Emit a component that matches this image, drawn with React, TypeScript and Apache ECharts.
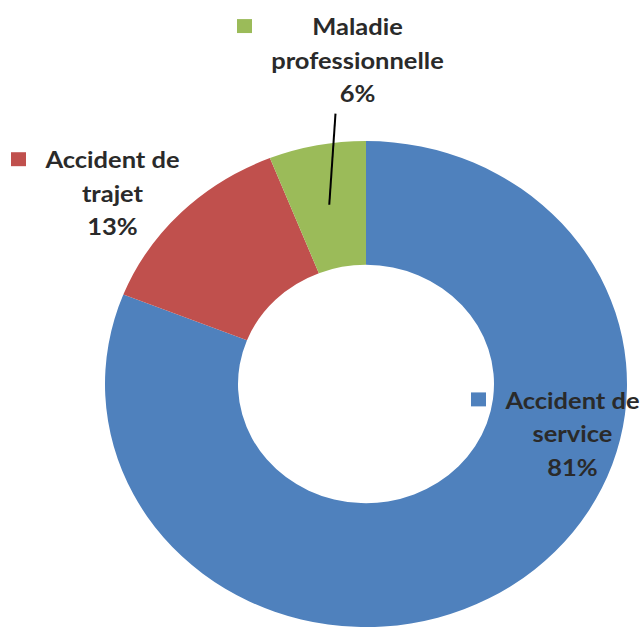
import React, { useEffect, useRef } from "react";
import * as echarts from "echarts";

const categories = ["Accident de service", "Accident de trajet", "Maladie professionnelle"];
const values = [81, 13, 6];
const colors = ["#4F81BD", "#C0504D", "#9BBB59"];

// label anchor positions (left edge of legend square, block middle), unscaled chart coordinates
const labelPos = [
  [471, 465],
  [11, 207],
  [237, 64],
];

const SY = 0.931;
const CX = 366;
const CY = 412.5;
const R_IN = 128;
const R_OUT = 261;
const FONT_SIZE = 25.5;
const FONT = `bold ${FONT_SIZE}px Lato`;
const SQ = 15;
const GAP = 18;
const LEADER_INDEX = 2;

function splitName(name: string): [string, string] {
  const i = name.lastIndexOf(" ");
  return [name.slice(0, i), name.slice(i + 1)];
}

function measure(text: string): number {
  const c = document.createElement("canvas").getContext("2d");
  if (!c) return text.length * FONT_SIZE * 0.55;
  c.font = FONT;
  return c.measureText(text).width;
}

export default function App() {
  const ref = useRef<HTMLDivElement>(null);
  useEffect(() => {
    if (!ref.current) return;
    const chart = echarts.init(ref.current, null, { renderer: "svg" });
    const total = values.reduce((a, b) => a + b, 0);
    const midAngles: number[] = [];
    let acc = 0;
    values.forEach((v) => {
      midAngles.push(90 - ((acc + v / 2) / total) * 360);
      acc += v;
    });
    const rich: any = {
      g: { width: GAP, align: "left" },
      pad: { width: SQ + GAP, align: "left" },
    };
    const widths: number[] = [];
    categories.forEach((name, i) => {
      const [a, b] = splitName(name);
      const pct = `${Math.round((values[i] / total) * 100)}%`;
      const W = Math.ceil(Math.max(measure(a), measure(b), measure(pct))) + 2;
      widths.push(W);
      rich["sq" + i] = { width: SQ, height: SQ, backgroundColor: colors[i], align: "left" };
      rich["t" + i] = { width: W, align: "center" };
    });

    // leader line for the small slice: from below its label to the middle of the ring
    const li = LEADER_INDEX;
    const ang = (midAngles[li] * Math.PI) / 180;
    const rMid = 196;
    const [lx, ly] = labelPos[li];
    const textCenter = lx + SQ + GAP + widths[li] / 2;
    const p1 = [textCenter - 22, ly + 58];
    const p2 = [CX + rMid * Math.cos(ang), CY - rMid * Math.sin(ang)];

    chart.setOption({
      animation: false,
      graphic: [
        {
          type: "line",
          z: 100,
          shape: { x1: p1[0], y1: p1[1], x2: p2[0], y2: p2[1] },
          style: { stroke: "#000", lineWidth: 2 },
          silent: true,
        },
      ],
      series: [
        {
          type: "pie",
          center: [CX, CY],
          radius: [R_IN, R_OUT],
          startAngle: 90,
          clockwise: true,
          avoidLabelOverlap: false,
          silent: true,
          emphasis: { disabled: true },
          itemStyle: { borderWidth: 0 },
          label: {
            show: true,
            position: "outside",
            fontFamily: "Lato",
            fontWeight: "bold",
            fontSize: FONT_SIZE,
            lineHeight: 36,
            color: "#2a2a2a",
            align: "left",
            formatter: (p: any) => {
              const i = p.dataIndex;
              const [a, b] = splitName(p.name);
              return `{sq${i}|}{g|}{t${i}|${a}}\n{pad|}{t${i}|${b}}\n{pad|}{t${i}|${Math.round(p.percent)}%}`;
            },
            rich,
          },
          labelLine: { show: false },
          labelLayout: (params: any) => {
            const [x, y] = labelPos[params.dataIndex];
            return { x, y, align: "left", verticalAlign: "middle" };
          },
          data: categories.map((name, i) => ({
            name,
            value: values[i],
            itemStyle: { color: colors[i] },
          })),
        },
      ],
    });
    return () => chart.dispose();
  }, []);
  return (
    <div style={{ position: "fixed", left: 0, top: 0, width: 641, height: 628, overflow: "hidden", background: "#fff" }}>
      <div
        ref={ref}
        style={{ width: 641, height: 675, transform: `scaleY(${SY})`, transformOrigin: "0 0" }}
      />
    </div>
  );
}
